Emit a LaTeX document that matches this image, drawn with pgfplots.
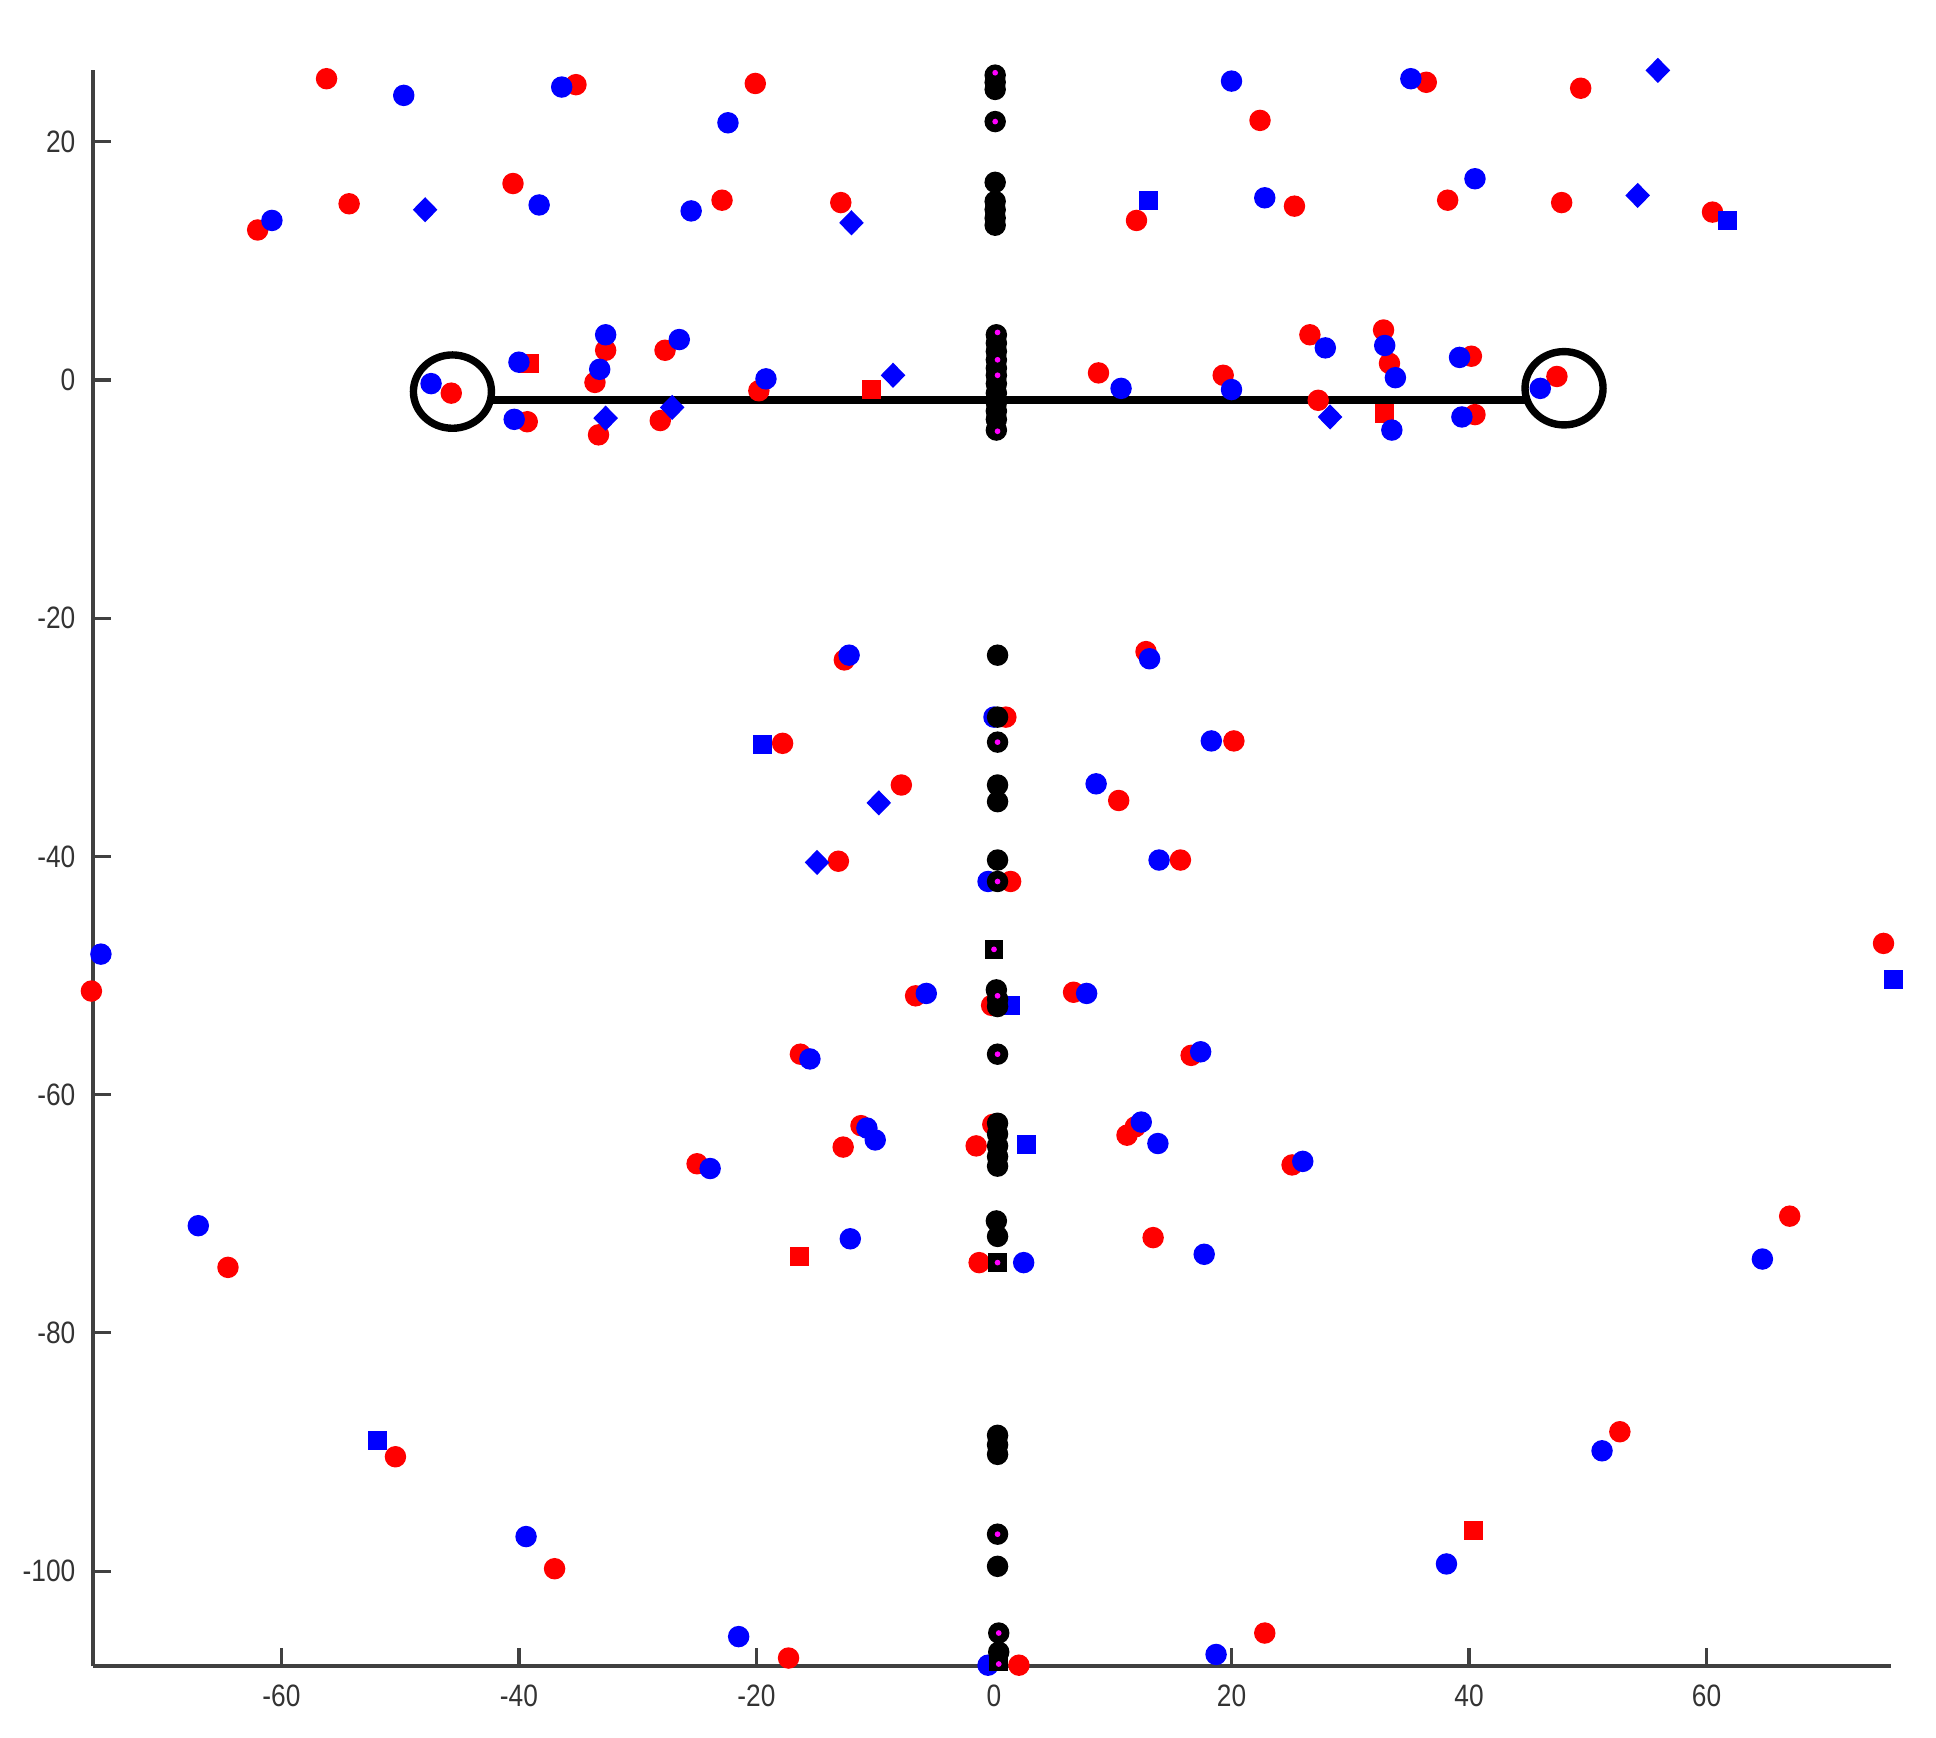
\documentclass[border=0pt]{standalone}
\usepackage{fontspec}
\setmainfont{Liberation Sans}
\newfontfamily\tickfont[FakeStretch=0.85]{Liberation Sans}
\usepackage{pgfplots}
\pgfplotsset{compat=1.18}
\definecolor{mred}{HTML}{FF0000}
\definecolor{mblue}{HTML}{0000FF}
\definecolor{mmag}{HTML}{FF00FF}
\definecolor{axgray}{HTML}{404040}

\begin{document}
\begin{tikzpicture}
\useasboundingbox (-0.926cm,-0.716cm) rectangle (18.434cm,16.664cm);
\begin{axis}[
    at={(0,0)}, anchor=south west,
    scale only axis, width=17.98cm, height=15.96cm,
    xmin=-75.9, xmax=75.5, ymin=-108, ymax=26,
    axis x line*=bottom, axis y line*=left,
    axis line style={draw=axgray, line width=1.1pt, -},
    xtick={-60,-40,...,60}, ytick={-100,-80,...,20},
    tick align=inside, major tick length=0.18cm,
    tick style={draw=axgray, line width=0.9pt},
    /pgf/number format/assume math mode=true,
    tick label style={font=\tickfont\fontsize{8.8}{10}\selectfont, text=black!80},
    xticklabel shift=1.7pt, yticklabel shift=1.4pt,
    clip=false,
  ]
  % red markers
  \addplot[only marks, mark=*, mark size=2.85pt, color=mred] coordinates {
    (-56.2,25.3) (-35.2,24.8) (-20.1,24.9) (36.4,25.0) (49.4,24.5) (22.4,21.8)
    (-62.0,12.6) (-54.3,14.8) (-40.5,16.5) (-22.9,15.1) (-12.9,14.9) (12.0,13.4)
    (25.3,14.6) (38.2,15.1) (47.8,14.9) (60.5,14.1)
    (-45.7,-1.1) (-39.3,-3.5) (-32.7,2.5) (-33.6,-0.2) (-33.3,-4.6) (-27.7,2.5)
    (-28.1,-3.4) (-19.8,-0.9) (8.8,0.6) (19.3,0.4) (26.6,3.8) (27.3,-1.7)
    (32.8,4.2) (33.3,1.4) (40.2,2.0) (40.5,-2.9) (47.4,0.3)
    (-12.6,-23.5) (12.8,-22.8) (-17.8,-30.5) (1.0,-28.3) (20.2,-30.3) (-7.8,-34.0)
    (10.5,-35.3) (-13.1,-40.4) (15.7,-40.3) (1.4,-42.1) (-76.0,-51.3) (74.9,-47.3)
    (-6.6,-51.7) (-0.2,-52.5) (6.7,-51.4) (-16.3,-56.6) (16.6,-56.7) (-11.2,-62.6)
    (-12.7,-64.4) (-1.5,-64.3) (-0.1,-62.5) (11.2,-63.4) (11.9,-62.7) (-25.0,-65.8)
    (25.1,-65.9) (-64.5,-74.5) (-1.25,-74.1) (13.4,-72.0) (67.0,-70.2) (-50.4,-90.4)
    (52.7,-88.3) (-37.0,-99.8) (-17.3,-107.3) (22.8,-105.2) (2.1,-107.9)
  };
  \addplot[only marks, mark=square*, mark size=2.5pt, color=mred] coordinates {
    (-39.1,1.4) (-10.35,-0.8) (32.9,-2.8) (-16.4,-73.6) (40.4,-96.6)
  };
  % blue markers
  \addplot[only marks, mark=*, mark size=2.85pt, color=mblue] coordinates {
    (-49.7,23.9) (-36.4,24.6) (-22.4,21.6) (20.0,25.1) (35.1,25.3)
    (-60.8,13.4) (-38.3,14.7) (-25.5,14.2) (22.8,15.3) (40.5,16.9)
    (-47.4,-0.3) (-40.0,1.5) (-40.4,-3.3) (-32.7,3.8) (-33.2,0.9) (-26.5,3.4)
    (-19.2,0.1) (10.7,-0.7) (20.0,-0.8) (27.9,2.7) (32.9,2.9) (33.8,0.2)
    (33.5,-4.2) (39.2,1.9) (39.4,-3.1) (46.0,-0.7)
    (-12.2,-23.1) (13.1,-23.4) (0.0,-28.3) (18.3,-30.3) (8.6,-33.9) (13.9,-40.3)
    (-0.5,-42.1) (-75.2,-48.2) (-5.7,-51.5) (7.8,-51.5) (-15.5,-57.0) (17.4,-56.4)
    (-10.7,-62.8) (-10.0,-63.8) (12.4,-62.3) (13.8,-64.1) (-23.9,-66.2) (26.0,-65.6)
    (-67.0,-71.0) (-12.1,-72.1) (2.5,-74.1) (17.7,-73.4) (64.7,-73.8) (51.2,-89.9)
    (-39.4,-97.1) (38.1,-99.4) (-21.5,-105.5) (18.7,-107.0) (-0.5,-107.9)
  };
  \addplot[only marks, mark=diamond*, mark size=3.3pt, color=mblue,
    mark options={xscale=1.3}] coordinates {
    (55.9,26.0) (-47.9,14.3) (-12.0,13.2) (54.2,15.5) (-8.5,0.4) (-32.7,-3.2)
    (-27.1,-2.3) (28.3,-3.1) (-9.7,-35.5) (-14.9,-40.5)
  };
  \addplot[only marks, mark=square*, mark size=2.5pt, color=mblue] coordinates {
    (61.8,13.4) (13.0,15.1) (75.7,-50.3) (1.4,-52.5) (2.7,-64.2) (-51.9,-89.0)
    (-19.5,-30.6)
  };
  % highlighted segment and circles
  \addplot[black, line width=2.5pt, no marks] coordinates {(-42.3,-1.68) (44.7,-1.68)};
  \addplot[only marks, mark=o, mark size=11.1pt, draw=black,
    mark options={line width=2.1pt, yscale=0.94}] coordinates {(-45.6,-0.97) (48.0,-0.69)};
  % black column
  \addplot[only marks, mark=*, mark size=2.85pt, color=black] coordinates {
    (0.1,25.6) (0.1,25.0) (0.1,24.4) (0.1,21.7) (0.1,16.6) (0.1,15.0) (0.1,14.3)
    (0.1,13.6) (0.1,13.0)
    (0.2,3.8) (0.2,3.1) (0.2,2.4) (0.2,1.7) (0.2,1.0) (0.2,0.4) (0.2,-0.3)
    (0.2,-1.1) (0.2,-1.9) (0.2,-2.6) (0.2,-3.3) (0.2,-4.2)
    (0.3,-23.1) (0.3,-28.3) (0.3,-30.4) (0.3,-34.0) (0.3,-35.4) (0.3,-40.3)
    (0.3,-42.1) (0.2,-51.2) (0.3,-52.0) (0.3,-52.6) (0.3,-56.6) (0.3,-62.4)
    (0.3,-63.3) (0.3,-64.3) (0.3,-65.2) (0.3,-66.0) (0.2,-70.6) (0.3,-71.9)
    (0.3,-88.6) (0.3,-89.4) (0.3,-90.2) (0.3,-96.9) (0.3,-99.6) (0.4,-105.2)
    (0.4,-106.8)
  };
  \addplot[only marks, mark=square*, mark size=2.5pt, color=black] coordinates {
    (0.0,-47.8) (0.3,-74.1) (0.4,-107.6)
  };
  \addplot[only marks, mark=*, mark size=0.6pt, color=mmag] coordinates {
    (0.1,25.8) (0.1,21.7) (0.3,4.0) (0.3,1.7) (0.3,0.4) (0.3,-4.3) (0.3,-30.4)
    (0.3,-42.1) (0.0,-47.8) (0.3,-51.7) (0.3,-56.6) (0.3,-74.1) (0.3,-96.9)
    (0.4,-105.2) (0.4,-107.8)
  };
\end{axis}
\end{tikzpicture}
\end{document}
